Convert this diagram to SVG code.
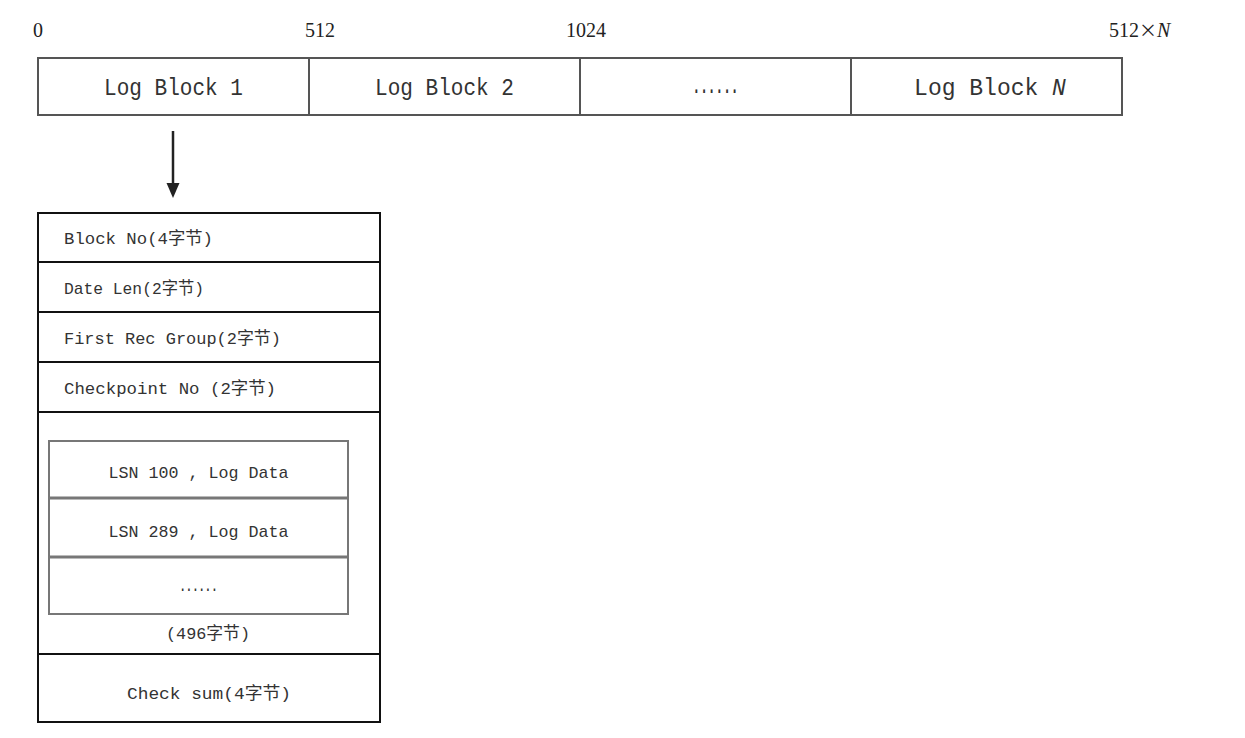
<svg xmlns="http://www.w3.org/2000/svg" width="1245" height="738" viewBox="0 0 1245 738">
<style>
.num{font-family:"Liberation Serif","Times New Roman",serif;font-size:20px;fill:#222}
.lbl{font-family:"Liberation Mono","Noto Sans CJK SC",monospace;font-size:23px;fill:#333}
.fld{font-family:"Liberation Mono","Noto Sans CJK SC",monospace;font-size:17px;fill:#333}
.cell{fill:#fff;stroke:#555;stroke-width:2}
.outer{fill:#fff;stroke:#111;stroke-width:2}
.sep{stroke:#111;stroke-width:2}
.inner{fill:#fff;stroke:#777;stroke-width:2}
.isep{stroke:#777;stroke-width:3}
</style>
<rect width="1245" height="738" fill="#fff"/>
<g id="offsets">
<text class="num" x="33" y="37">0</text>
<text class="num" x="305" y="37">512</text>
<text class="num" x="566" y="37">1024</text>
<text class="num" x="1109" y="37">512<tspan font-family="Noto Sans CJK SC,sans-serif" font-size="18">×</tspan><tspan font-style="italic">N</tspan></text>
</g>
<g id="block1"><rect class="cell" x="38" y="58" width="271" height="57"/><text class="lbl" x="173.5" y="95" text-anchor="middle" textLength="139" lengthAdjust="spacingAndGlyphs">Log Block 1</text></g>
<g id="block2"><rect class="cell" x="309" y="58" width="271" height="57"/><text class="lbl" x="444.5" y="95" text-anchor="middle" textLength="139" lengthAdjust="spacingAndGlyphs">Log Block 2</text></g>
<g id="blockdots"><rect class="cell" x="580" y="58" width="271" height="57"/><text class="lbl" x="715.5" y="93" text-anchor="middle" font-weight="bold" textLength="46" lengthAdjust="spacingAndGlyphs">......</text></g>
<g id="blockN"><rect class="cell" x="851" y="58" width="271" height="57"/><text class="lbl" x="990" y="95" text-anchor="middle" font-size="22">Log Block <tspan font-style="italic">N</tspan></text></g>
<g id="connectors">
<line x1="173" y1="131" x2="173" y2="185" stroke="#222" stroke-width="2.5"/>
<polygon points="166.5,183 179.5,183 173,198" fill="#222"/>
</g>
<g id="logblock-detail">
<rect class="outer" x="38" y="213" width="342" height="509"/>
<line class="sep" x1="38" y1="262" x2="380" y2="262"/>
<line class="sep" x1="38" y1="312" x2="380" y2="312"/>
<line class="sep" x1="38" y1="362" x2="380" y2="362"/>
<line class="sep" x1="38" y1="412" x2="380" y2="412"/>
<line class="sep" x1="38" y1="654" x2="380" y2="654"/>
<text class="fld" x="64" y="244" textLength="149" lengthAdjust="spacingAndGlyphs">Block No(4字节)</text>
<text class="fld" x="64" y="294" textLength="140" lengthAdjust="spacingAndGlyphs">Date Len(2字节)</text>
<text class="fld" x="64" y="344" textLength="217" lengthAdjust="spacingAndGlyphs">First Rec Group(2字节)</text>
<text class="fld" x="64" y="394" textLength="212" lengthAdjust="spacingAndGlyphs">Checkpoint No (2字节)</text>
<g id="records">
<rect class="inner" x="49" y="441" width="299" height="173"/>
<line class="isep" x1="49" y1="498" x2="348" y2="498"/>
<line class="isep" x1="49" y1="557" x2="348" y2="557"/>
<text class="fld" x="198.5" y="478" text-anchor="middle" textLength="180" lengthAdjust="spacingAndGlyphs">LSN 100 , Log Data</text>
<text class="fld" x="198.5" y="537" text-anchor="middle" textLength="180" lengthAdjust="spacingAndGlyphs">LSN 289 , Log Data</text>
<text class="fld" x="198.5" y="591" text-anchor="middle" font-weight="bold" textLength="38" lengthAdjust="spacingAndGlyphs">......</text>
</g>
<text class="fld" x="208" y="639" text-anchor="middle" textLength="84" lengthAdjust="spacingAndGlyphs">(496字节)</text>
<text class="fld" x="209" y="699" text-anchor="middle" textLength="164" lengthAdjust="spacingAndGlyphs">Check sum(4字节)</text>
</g>
</svg>
